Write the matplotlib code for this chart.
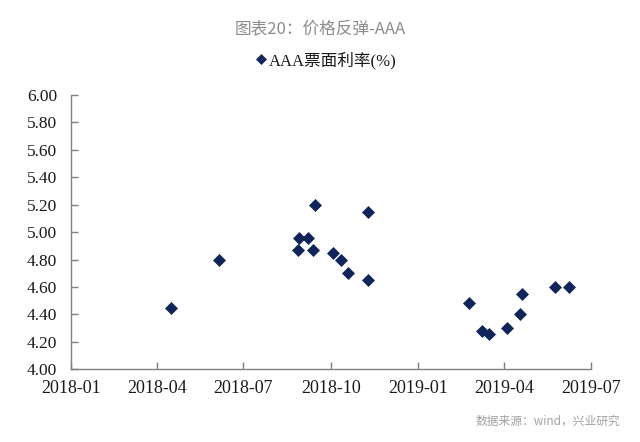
import matplotlib
matplotlib.use("Agg")
import matplotlib.pyplot as plt
import pandas as pd

dates = ["2018-04-16", "2018-06-05", "2018-08-27", "2018-08-29", "2018-09-07",
         "2018-09-12", "2018-09-14", "2018-10-03", "2018-10-12", "2018-10-19",
         "2018-11-09", "2018-11-09", "2019-02-23", "2019-03-09", "2019-03-16",
         "2019-04-04", "2019-04-18", "2019-04-20", "2019-05-24", "2019-06-08"]
rates = [4.45, 4.80, 4.87, 4.96, 4.96,
         4.87, 5.20, 4.85, 4.80, 4.70,
         5.15, 4.65, 4.48, 4.28, 4.26,
         4.30, 4.40, 4.55, 4.60, 4.60]
xticks = ["2018-01", "2018-04", "2018-07", "2018-10", "2019-01", "2019-04", "2019-07"]
yticks = [4.00, 4.20, 4.40, 4.60, 4.80, 5.00, 5.20, 5.40, 5.60, 5.80, 6.00]
title = "图表20：价格反弹-AAA"
series_name = "AAA票面利率(%)"
source = "数据来源：wind，兴业研究"

serif = ["Liberation Serif", "Noto Sans CJK SC"]
cjk = ["Noto Sans CJK SC", "DejaVu Sans"]
navy = "#0f2559"
grey = "#7f7f7f"

fig = plt.figure(figsize=(6.4, 4.42), dpi=100)
ax = fig.add_axes([0.111, 0.1645, 0.812, 0.6205])

x = pd.to_datetime(dates)
ax.plot(x, rates, linestyle="none", marker="D", markersize=6,
        color=navy, markeredgecolor=navy, markeredgewidth=0.5, label=series_name)

tick_dates = pd.to_datetime([t + "-01" for t in xticks])
ax.set_xlim(tick_dates[0], tick_dates[-1])
ax.set_xticks(tick_dates)
ax.set_xticklabels(xticks, fontfamily=serif, fontsize=13, color="#1a1a1a")
ax.set_ylim(4.0, 6.0)
ax.set_yticks(yticks)
ax.set_yticklabels([f"{v:.2f}" for v in yticks], fontfamily=serif, fontsize=12.5, color="#1a1a1a")

for s in ["top", "right"]:
    ax.spines[s].set_visible(False)
for s in ["left", "bottom"]:
    ax.spines[s].set_color(grey)
    ax.spines[s].set_linewidth(1.0)
ax.tick_params(axis="both", direction="in", length=5, width=1.0, color=grey)
ax.tick_params(axis="x", pad=8)
ax.tick_params(axis="y", pad=10)

fig.text(0.5, 0.932, title, ha="center", va="center", fontsize=12,
         color="#8c8c8c", family=cjk)

leg = fig.legend(loc="center", bbox_to_anchor=(0.51, 0.864), frameon=False,
                 prop={"family": serif, "size": 12}, handlelength=0.6,
                 handletextpad=0.2, markerscale=0.9)
for t in leg.get_texts():
    t.set_color("#1a1a1a")

fig.text(0.969, 0.048, source, ha="right", va="center", fontsize=8.5,
         color="#a0a0a0", family=cjk)

fig.savefig("out.png", dpi=100)
